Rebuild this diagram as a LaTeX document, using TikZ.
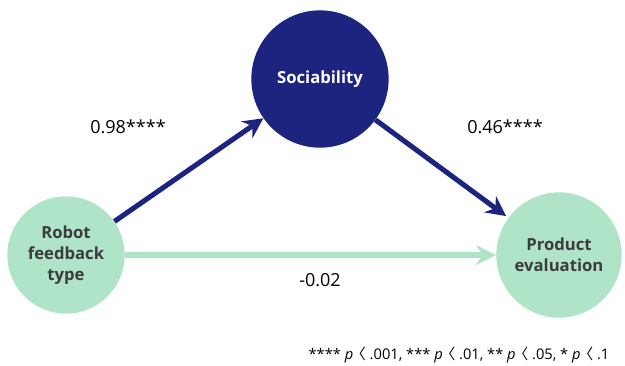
\documentclass[tikz,border=0pt]{standalone}
\usepackage{fontspec}
\setmainfont{Open Sans}
\newfontfamily\cjk{Noto Sans CJK KR}
\usetikzlibrary{arrows.meta}
\definecolor{navyblue}{RGB}{28,36,128}
\definecolor{mintgreen}{RGB}{176,228,200}
\definecolor{darktext}{RGB}{60,60,60}
\newcommand{\ltangle}{\kern-0.4em{\cjk 〈}}

\begin{document}
\begin{tikzpicture}[x=0.75pt,y=0.75pt,yscale=-1,xscale=1,
    varcircle/.style={circle,inner sep=0pt,minimum size=#1,align=center,font=\fontsize{12.5}{16}\selectfont\bfseries},
    bluepath/.style={draw=navyblue,line width=3.8pt,-{Stealth[length=15pt,width=15pt,inset=5pt]}},
    greenpath/.style={draw=mintgreen,line width=3.8pt,-{Stealth[length=15pt,width=15pt,inset=5pt]}},
    coeflabel/.style={font=\fontsize{13.5}{16}\selectfont,text=black}]
    \useasboundingbox (0,0) rectangle (625,365);

    %Shape: Circle [mediator]
    \node[varcircle=103pt,fill=navyblue,text=white] (soc) at (320,79) {Sociability};
    %Shape: Circle [predictor]
    \node[varcircle=88pt,fill=mintgreen,text=darktext] (robot) at (66,255) {Robot\\feedback\\type};
    %Shape: Circle [outcome]
    \node[varcircle=94pt,fill=mintgreen,text=darktext] (prod) at (559,255) {Product\\evaluation};

    %Paths
    \draw[bluepath] (robot) -- (soc);
    \draw[bluepath,shorten >=2pt] (soc) -- (prod);
    \draw[greenpath] (robot) -- (prod);

    % Text Node
    \node[coeflabel] (aval) at (128,127) {0.98****};
    % Text Node
    \node[coeflabel] (bval) at (505,127) {0.46****};
    % Text Node
    \node[coeflabel] (cval) at (320,280) {-0.02};
    % Text Node
    \node[font=\fontsize{11}{13}\selectfont,anchor=east] (note) at (614,355)
        {**** \textit{p} \ltangle{} .001, *** \textit{p} \ltangle{} .01, ** \textit{p} \ltangle{} .05, * \textit{p} \ltangle{} .1};
\end{tikzpicture}
\end{document}
